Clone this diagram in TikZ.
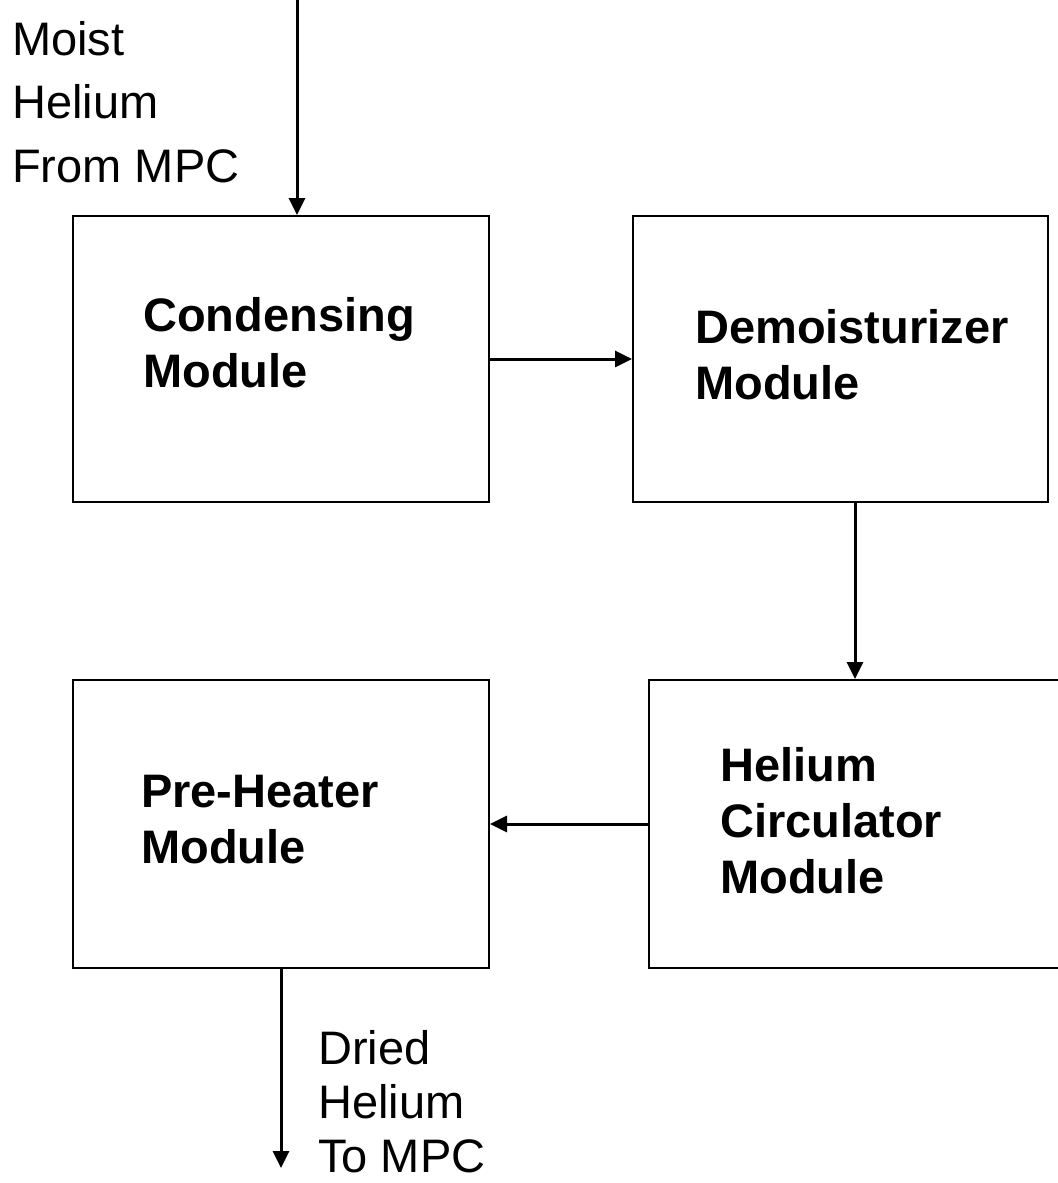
\documentclass[tikz,border=0pt]{standalone}
\usepackage{fontspec}
\setmainfont{Liberation Sans}
\usetikzlibrary{arrows.meta}
\begin{document}
\begin{tikzpicture}[x=1bp,y=-1bp,
  modbox/.style={draw,line width=2bp,rectangle,inner sep=0pt},
  flow/.style={line width=3bp,-{Triangle[length=17bp,width=16bp]}},
  boldlbl/.style={anchor=base west,inner sep=0pt,align=left,font=\fontsize{47bp}{56bp}\selectfont\bfseries},
  plainlbl/.style={anchor=base west,inner sep=0pt,align=left}]
\useasboundingbox (0,0) rectangle (1058,1183);
\clip (0,0) rectangle (1058,1183);
\node[modbox,minimum width=416bp,minimum height=286bp] (cond) at (281,359) {};
\node[modbox,minimum width=415bp,minimum height=286bp] (dem) at (840.5,359) {};
\node[modbox,minimum width=416bp,minimum height=288bp] (pre) at (281,824) {};
\node[modbox,minimum width=421bp,minimum height=288bp] (circ) at (859.5,824) {};
\node[boldlbl] (condlbl) at (143,387) {Condensing\\Module};
\node[boldlbl] (demlbl) at (695,399) {Demoisturizer\\Module};
\node[boldlbl] (prelbl) at (141,863) {Pre-Heater\\Module};
\node[boldlbl] (circlbl) at (720,893) {Helium\\Circulator\\Module};
\node[plainlbl,font=\fontsize{47bp}{63.5bp}\selectfont] (inlbl) at (12,182) {Moist\\Helium\\From MPC};
\node[plainlbl,font=\fontsize{47bp}{54bp}\selectfont] (outlbl) at (318,1172) {Dried\\Helium\\To MPC};
\coordinate (intop) at (297,0);
\coordinate (outend) at (281,1168);
\coordinate (dc) at (855,502);
\draw[flow] (intop) -- (intop |- cond.north);
\draw[flow] (cond.east) -- (dem.west);
\draw[flow] (dc) -- (dc |- circ.north);
\draw[flow] (circ.west) -- (pre.east);
\draw[flow] (outend |- pre.south) -- (outend);
\end{tikzpicture}
\end{document}
